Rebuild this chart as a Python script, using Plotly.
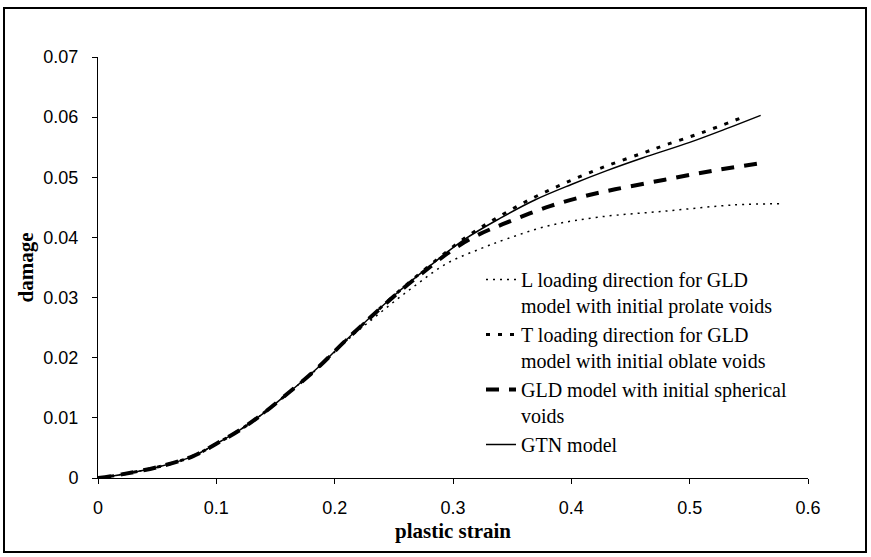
import plotly.graph_objects as go

# ---- data ----
gtn_x = [0, 0.02, 0.05, 0.08, 0.10, 0.12, 0.14, 0.16, 0.185, 0.21, 0.25, 0.28, 0.31, 0.34, 0.37, 0.40, 0.43, 0.46, 0.50, 0.53, 0.56]
gtn_y = [0, 0.0006, 0.0018, 0.0036, 0.0057, 0.0080, 0.0108, 0.0140, 0.0182, 0.0230, 0.0303, 0.0352, 0.0397, 0.0432, 0.0463, 0.0488, 0.0511, 0.0532, 0.0558, 0.0580, 0.0603]

t_x = [0, 0.02, 0.05, 0.08, 0.10, 0.12, 0.14, 0.16, 0.185, 0.21, 0.25, 0.28, 0.31, 0.34, 0.37, 0.40, 0.43, 0.46, 0.48, 0.51, 0.545]
t_y = [0, 0.0006, 0.0018, 0.0036, 0.0057, 0.0080, 0.0108, 0.0140, 0.0182, 0.0230, 0.0303, 0.0353, 0.0399, 0.0436, 0.0468, 0.0495, 0.0519, 0.0540, 0.0554, 0.0574, 0.0600]

s_x = [0, 0.02, 0.05, 0.08, 0.10, 0.12, 0.14, 0.16, 0.185, 0.21, 0.25, 0.28, 0.30, 0.32, 0.342, 0.382, 0.416, 0.437, 0.479, 0.52, 0.558]
s_y = [0, 0.0006, 0.0018, 0.0036, 0.0057, 0.0080, 0.0108, 0.0140, 0.0182, 0.0230, 0.0302, 0.0350, 0.0380, 0.0403, 0.0422, 0.0452, 0.0471, 0.0480, 0.0496, 0.0511, 0.0523]

l_x = [0, 0.02, 0.05, 0.08, 0.10, 0.12, 0.14, 0.16, 0.185, 0.21, 0.238, 0.266, 0.295, 0.323, 0.346, 0.382, 0.424, 0.481, 0.537, 0.578]
l_y = [0, 0.0006, 0.0018, 0.0036, 0.0057, 0.0080, 0.0108, 0.0140, 0.0181, 0.0228, 0.0274, 0.0317, 0.0357, 0.0381, 0.0398, 0.0420, 0.0434, 0.0444, 0.0454, 0.0456]

names = [
    "L loading direction for GLD<br>model with initial prolate voids",
    "T loading direction for GLD<br>model with initial oblate voids",
    "GLD model with initial spherical<br>voids",
    "GTN model",
]
x_ticks = [0, 0.1, 0.2, 0.3, 0.4, 0.5, 0.6]
x_tick_labels = ["0", "0.1", "0.2", "0.3", "0.4", "0.5", "0.6"]
y_ticks = [0, 0.01, 0.02, 0.03, 0.04, 0.05, 0.06, 0.07]
y_tick_labels = ["0", "0.01", "0.02", "0.03", "0.04", "0.05", "0.06", "0.07"]

fig = go.Figure()
fig.add_trace(go.Scatter(x=l_x, y=l_y, mode="lines", name=names[0],
                         line=dict(color="black", width=1.5, dash="2px,5px"), line_shape="spline"))
fig.add_trace(go.Scatter(x=t_x, y=t_y, mode="lines", name=names[1],
                         line=dict(color="black", width=3, dash="4px,8px"), line_shape="spline"))
fig.add_trace(go.Scatter(x=s_x, y=s_y, mode="lines", name=names[2],
                         line=dict(color="black", width=4, dash="13px,10px"), line_shape="spline"))
fig.add_trace(go.Scatter(x=gtn_x, y=gtn_y, mode="lines", name=names[3],
                         line=dict(color="black", width=1.5), line_shape="spline"))

W, H = 871, 557
L, R, T, B = 98, 63, 57, 79
pw, ph = W - L - R, H - T - B

def px_x(p):
    return (p - L) / pw

def px_y(p):
    return (H - B - p) / ph

fig.add_shape(type="rect", xref="paper", yref="paper",
              x0=px_x(4), x1=px_x(866), y0=px_y(552), y1=px_y(8),
              line=dict(color="black", width=2), fillcolor="rgba(0,0,0,0)", layer="above")

fig.update_layout(
    width=W, height=H,
    margin=dict(l=L, r=R, t=T, b=B, pad=0),
    paper_bgcolor="white", plot_bgcolor="white",
    showlegend=True,
    legend=dict(x=px_x(481), y=px_y(260), xanchor="left", yanchor="top",
                font=dict(family="Liberation Serif", size=20, color="black"),
                bgcolor="rgba(0,0,0,0)", valign="top", tracegroupgap=0,
                itemwidth=30),
    xaxis=dict(range=[0, 0.6], tickvals=x_ticks, ticktext=x_tick_labels,
               showgrid=False, zeroline=False, showline=True, linecolor="black", linewidth=1,
               ticks="outside", ticklen=5, tickcolor="black", ticklabelstandoff=8,
               tickfont=dict(family="Liberation Sans", size=18, color="black"),
               title=dict(text="<b>plastic strain</b>", standoff=6,
                          font=dict(family="Liberation Serif", size=21, color="black"))),
    yaxis=dict(range=[0, 0.07], tickvals=y_ticks, ticktext=y_tick_labels,
               showgrid=False, zeroline=False, showline=True, linecolor="black", linewidth=1,
               ticks="outside", ticklen=5, tickcolor="black", ticklabelstandoff=10,
               tickfont=dict(family="Liberation Sans", size=18, color="black"),
               title=dict(text="<b>damage</b>", standoff=4,
                          font=dict(family="Liberation Serif", size=21, color="black"))),
)

fig.write_html("out.html")
